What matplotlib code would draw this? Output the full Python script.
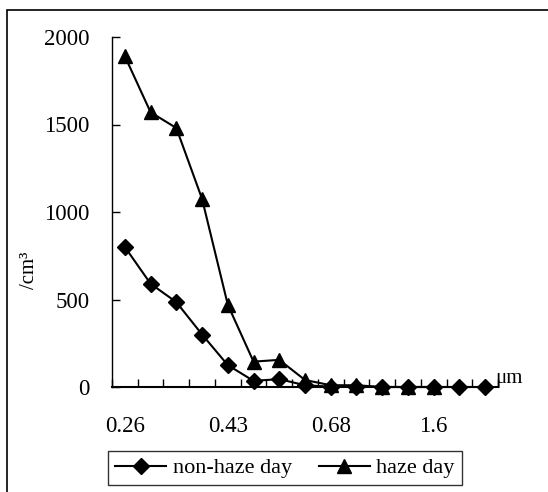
import matplotlib
matplotlib.use("Agg")
import matplotlib.pyplot as plt
from matplotlib.patches import Rectangle
import numpy as np

categories = list(range(1, 16))
non_haze = [800, 590, 485, 300, 125, 35, 45, 10, 2, 2, 0, 0, 0, 0, 0]
haze = [1890, 1570, 1480, 1075, 470, 145, 155, 40, 10, 10, 0, 0, 0]
tick_positions = [1, 5, 9, 13]
tick_labels = ["0.26", "0.43", "0.68", "1.6"]

plt.rcParams['font.family'] = ['Liberation Serif', 'DejaVu Serif']
fs = 16.5

fig = plt.figure(figsize=(5.48, 4.92), dpi=100)
ax = fig.add_axes([112/548, 1-387/492, (498-112)/548, (387-37)/492])

ax.plot(categories, non_haze, color='black', lw=1.5, marker='D', ms=8,
        label='non-haze day', clip_on=False, zorder=3)
ax.plot(categories[:len(haze)], haze, color='black', lw=1.5, marker='^', ms=10,
        label='haze day', clip_on=False, zorder=4)

ax.set_xlim(0.5, 15.5)
ax.set_ylim(0, 2000)
ax.set_yticks([0, 500, 1000, 1500, 2000])
ax.tick_params(axis='y', direction='in', length=6, width=1, labelsize=fs, pad=16)
ax.set_xticks(tick_positions)
ax.set_xticklabels(tick_labels)
ax.tick_params(axis='x', which='major', length=0, labelsize=fs, pad=21)
ax.set_xticks(np.arange(0.5, 16, 1), minor=True)
ax.tick_params(axis='x', which='minor', direction='in', length=6, width=1)
for s in ['top', 'right']:
    ax.spines[s].set_visible(False)
ax.spines['left'].set_linewidth(1)
ax.spines['bottom'].set_linewidth(1.5)

fig.text(30/548, 1-270/492, '/cm³', rotation=90, ha='center', va='center', fontsize=15)
fig.text(509/548, 1-378/492, 'μm', ha='center', va='center', fontsize=15)

leg = ax.legend(loc='center', bbox_to_anchor=(285/548, 1-468/492), bbox_transform=fig.transFigure,
                ncol=2, frameon=True, fancybox=False, edgecolor='black', fontsize=16,
                handlelength=2.3, handletextpad=0.3, columnspacing=1.2, borderpad=0.3)
leg.get_frame().set_linewidth(1)

fig.patches.append(Rectangle((7/548, -0.1), 1.2, 1-10/492+0.1, transform=fig.transFigure,
                             fill=False, edgecolor='black', lw=1.2))

fig.savefig('out.png', dpi=100)
